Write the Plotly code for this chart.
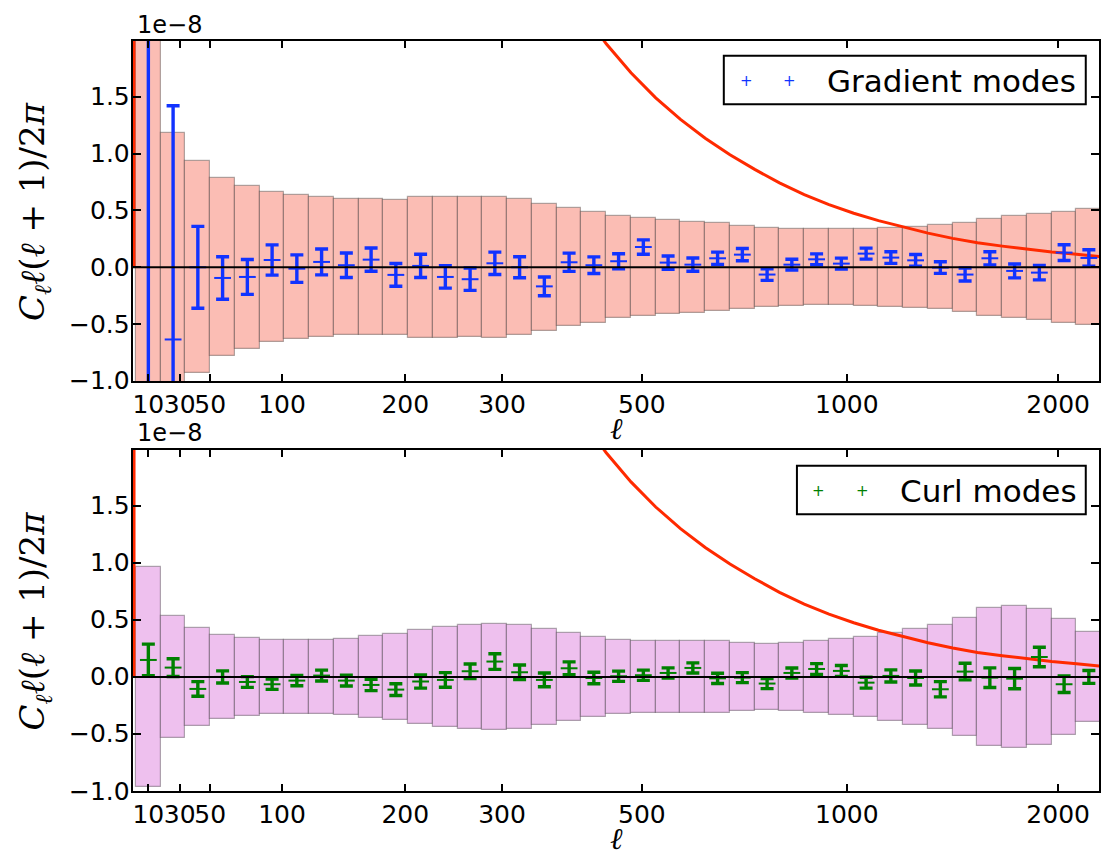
import plotly.graph_objects as go

# ---------------- data (values in units of 1e-8) ----------------
bins = list(range(39))
tick_pos = [0.0, 1.27, 2.5, 5.4, 10.38, 14.29, 19.94, 28.22, 36.76]
tick_labels = ["10", "30", "50", "100", "200", "300", "500", "1000", "2000"]
ytick_vals = [-1.0, -0.5, 0.0, 0.5, 1.0, 1.5]
ytick_text = ["\u22121.0", "\u22120.5", "0.0", "0.5", "1.0", "1.5"]

grad_band = [3.0, 1.178, 0.933, 0.784, 0.716, 0.658, 0.634, 0.614, 0.599, 0.599,
             0.594, 0.620, 0.620, 0.617, 0.620, 0.599, 0.559, 0.520, 0.488, 0.447,
             0.430, 0.415, 0.401, 0.386, 0.365, 0.345, 0.339, 0.336, 0.336, 0.339,
             0.346, 0.357, 0.368, 0.390, 0.425, 0.450, 0.468, 0.487, 0.509]
curl_band = [0.965, 0.538, 0.433, 0.371, 0.345, 0.327, 0.327, 0.328, 0.337, 0.357,
             0.375, 0.415, 0.436, 0.453, 0.467, 0.454, 0.419, 0.386, 0.354, 0.327,
             0.319, 0.313, 0.313, 0.313, 0.301, 0.290, 0.300, 0.314, 0.336, 0.353,
             0.383, 0.424, 0.459, 0.520, 0.602, 0.626, 0.599, 0.512, 0.398]

grad_val = [2.5, -0.635, 0.0, -0.094, -0.085, 0.064, -0.012, 0.047, 0.018, 0.067,
            -0.067, 0.012, -0.085, -0.105, 0.035, 0.0, -0.168, 0.044, 0.018, 0.053,
            0.178, 0.041, 0.023, 0.079, 0.111, -0.064, 0.023, 0.07, 0.032, 0.12,
            0.085, 0.061, -0.003, -0.064, 0.079, -0.032, -0.047, 0.129, 0.082]
grad_err = [6.0, 2.056, 0.36, 0.187, 0.153, 0.133, 0.121, 0.114, 0.108, 0.102,
            0.10, 0.102, 0.098, 0.098, 0.098, 0.092, 0.083, 0.08, 0.073, 0.066,
            0.063, 0.058, 0.058, 0.054, 0.054, 0.051, 0.047, 0.048, 0.048, 0.048,
            0.051, 0.051, 0.051, 0.057, 0.058, 0.061, 0.064, 0.069, 0.072]

curl_val = [0.149, 0.082, -0.105, 0.0, -0.044, -0.064, -0.032, 0.012, -0.032, -0.07,
            -0.111, -0.04, -0.026, 0.05, 0.135, 0.041, -0.026, 0.076, -0.009, 0.006,
            0.015, 0.035, 0.079, -0.012, -0.006, -0.058, 0.035, 0.07, 0.053, -0.05,
            0.009, -0.009, -0.108, 0.047, -0.006, -0.015, 0.175, -0.064, 0.0]
curl_err = [0.139, 0.078, 0.064, 0.053, 0.047, 0.045, 0.045, 0.048, 0.048, 0.05,
            0.051, 0.058, 0.064, 0.064, 0.069, 0.064, 0.06, 0.056, 0.05, 0.045,
            0.045, 0.045, 0.044, 0.045, 0.044, 0.044, 0.044, 0.047, 0.048, 0.048,
            0.053, 0.061, 0.067, 0.073, 0.086, 0.089, 0.085, 0.072, 0.056]

theory_x = [-0.58, -0.55, 3.0, 8.0, 13.0, 16.0,
            17.5, 18.5, 19.5, 20.5, 21.5, 22.5, 23.5, 24.5, 25.5, 26.5, 27.5,
            28.5, 29.5, 30.5, 31.5, 32.5, 33.5, 34.5, 35.5, 36.5, 37.5, 38.5]
theory_y = [0.0, 40.0, 25.0, 10.0, 4.5, 2.9,
            2.27, 1.965, 1.71, 1.49, 1.30, 1.135, 0.99, 0.861, 0.742, 0.639, 0.551,
            0.475, 0.41, 0.352, 0.30, 0.254, 0.215, 0.186, 0.16, 0.135, 0.115, 0.093]

# ---------------- styles ----------------
BLUE = "#1133ff"
GREEN = "#008000"
RED = "#ff2a00"
FILL_TOP = "#fbbdb4"
FILL_BOT = "#eec0ee"
EDGE = "rgba(0,0,0,0.3)"
FONT = "DejaVu Sans"
SERIF = "DejaVu Serif"
YRANGE = [-1.0, 1.99]
XRANGE = [-0.62, 38.41]

fig = go.Figure()

panels = [
    ("x", "y", grad_band, FILL_TOP, grad_val, grad_err, BLUE),
    ("x2", "y2", curl_band, FILL_BOT, curl_val, curl_err, GREEN),
]
for xa, ya, band, fill, val, err, col in panels:
    fig.add_trace(go.Bar(
        x=bins, y=[2 * b for b in band], base=[-b for b in band], width=1.0,
        marker=dict(color=fill, line=dict(color=EDGE, width=1.2)),
        xaxis=xa, yaxis=ya, showlegend=False, hoverinfo="skip"))
    fig.add_trace(go.Scatter(
        x=theory_x, y=theory_y, mode="lines", line=dict(color=RED, width=3),
        xaxis=xa, yaxis=ya, showlegend=False, hoverinfo="skip"))
    fig.add_trace(go.Scatter(
        x=bins, y=val, mode="markers",
        marker=dict(symbol="line-ew", size=12, color=col, line=dict(color=col, width=2)),
        error_y=dict(type="data", array=err, visible=True, color=col, thickness=3.4, width=6.5),
        xaxis=xa, yaxis=ya, showlegend=False))

axis_common = dict(
    showline=True, linecolor="black", linewidth=2, mirror="allticks",
    ticks="inside", tickcolor="black", tickwidth=1.5,
    showgrid=False, zeroline=False,
    tickfont=dict(family=FONT, size=25, color="black"),
)
xaxis_common = dict(axis_common, range=XRANGE, tickmode="array",
                    tickvals=tick_pos, ticktext=tick_labels, ticklen=7, tickangle=0)
yaxis_common = dict(axis_common, range=YRANGE, tickmode="array",
                    tickvals=ytick_vals, ticklen=8, showticklabels=False)

fig.update_layout(
    width=1102, height=858,
    margin=dict(l=133, r=1, t=41, b=67),
    paper_bgcolor="white", plot_bgcolor="white",
    bargap=0, barmode="overlay",
    xaxis=dict(xaxis_common, domain=[0, 1], anchor="y"),
    yaxis=dict(yaxis_common, domain=[0.5467, 1.0], anchor="x"),
    xaxis2=dict(xaxis_common, domain=[0, 1], anchor="y2"),
    yaxis2=dict(yaxis_common, domain=[0.0, 0.4547], anchor="x2"),
)

shapes = []
annotations = []
for xa, ya in [("x", "y"), ("x2", "y2")]:
    shapes.append(dict(type="line", xref=f"{xa} domain", yref=ya, x0=0, x1=1, y0=0, y1=0,
                       line=dict(color="black", width=2), layer="above"))
    # y tick labels, set close to the spine as in the reference
    for v, t in zip(ytick_vals, ytick_text):
        annotations.append(dict(xref="paper", yref=ya, x=-0.0012, y=v, text=t,
                                showarrow=False, xanchor="right", yanchor="middle",
                                font=dict(family=FONT, size=25, color="black")))

# legends
legends = [
    ("x", "y", 0.6116, 0.9863, 0.8138, 0.9568, 0.635, 0.6798, 0.7166, 0.8832, "Gradient modes", BLUE),
    ("x2", "y2", 0.6873, 0.9863, 0.8114, 0.9540, 0.7097, 0.7552, 0.7924, 0.8806, "Curl modes", GREEN),
]
for xa, ya, x0, x1, y0, y1, m1, m2, tx, ty, label, col in legends:
    shapes.append(dict(type="rect", xref=f"{xa} domain", yref=f"{ya} domain",
                       x0=x0, x1=x1, y0=y0, y1=y1, fillcolor="white",
                       line=dict(color="black", width=2), layer="above"))
    for mx in (m1, m2):
        annotations.append(dict(xref=f"{xa} domain", yref=f"{ya} domain", x=mx, y=ty,
                                text="+", showarrow=False, xanchor="center", yanchor="middle",
                                font=dict(family=FONT, size=15, color=col)))
    annotations.append(dict(xref=f"{xa} domain", yref=f"{ya} domain", x=tx, y=ty,
                            text=label, showarrow=False, xanchor="left", yanchor="middle",
                            font=dict(family=FONT, size=31, color="black")))

ylabel = "<i>C</i><sub><i>\u2113</i></sub><i>\u2113</i>(<i>\u2113</i> + 1)/2<i>\u03c0</i>"
for ya in ("y", "y2"):
    annotations.append(dict(xref="paper", yref=f"{ya} domain", x=-0.1015, y=0.5,
                            text=ylabel, textangle=-90, showarrow=False,
                            xanchor="center", yanchor="middle",
                            font=dict(family=SERIF, size=34, color="black")))

# offset text and x titles
annotations.append(dict(xref="paper", yref="paper", x=0.002, y=1.0213, text="1e\u22128",
                        showarrow=False, xanchor="left", yanchor="middle",
                        font=dict(family=FONT, size=24, color="black")))
annotations.append(dict(xref="paper", yref="paper", x=0.002, y=0.4773, text="1e\u22128",
                        showarrow=False, xanchor="left", yanchor="middle",
                        font=dict(family=FONT, size=24, color="black")))
annotations.append(dict(xref="paper", yref="paper", x=0.5, y=0.484, text="<i>\u2113</i>",
                        showarrow=False, xanchor="center", yanchor="middle",
                        font=dict(family=SERIF, size=30, color="black")))
annotations.append(dict(xref="paper", yref="paper", x=0.5, y=-0.0893, text="<i>\u2113</i>",
                        showarrow=False, xanchor="center", yanchor="bottom",
                        font=dict(family=SERIF, size=30, color="black")))

fig.update_layout(shapes=shapes, annotations=annotations)
fig.write_html("out.html")
